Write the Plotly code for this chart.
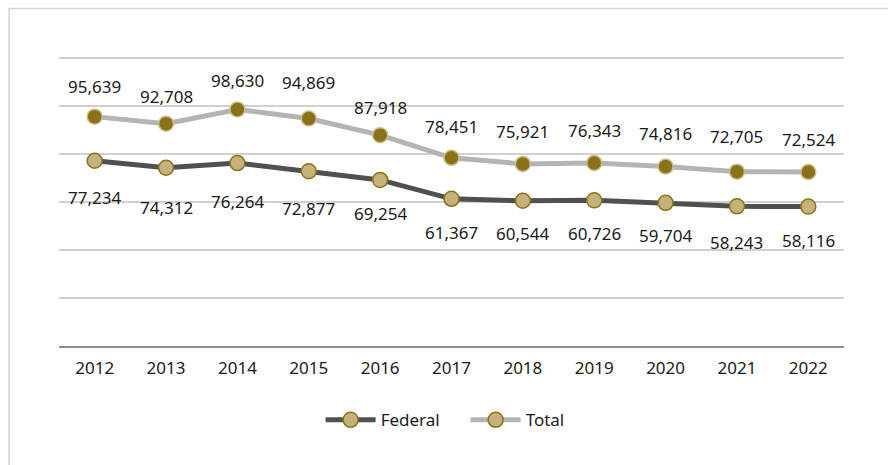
import plotly.graph_objects as go

# Headcount by year
years = ["2012", "2013", "2014", "2015", "2016", "2017", "2018", "2019", "2020", "2021", "2022"]
federal = [77234, 74312, 76264, 72877, 69254, 61367, 60544, 60726, 59704, 58243, 58116]
total = [95639, 92708, 98630, 94869, 87918, 78451, 75921, 76343, 74816, 72705, 72524]

# Vertical pixel offsets for the value labels (positive = above the point)
total_label_shift = [30, 27, 29, 36, 28, 31, 32, 32, 33, 35, 33]
federal_label_shift = [-37, -40, -38, -37, -34, -34, -33, -33, -33, -36, -34]

FONT = "Noto Sans"
TEXT_COLOR = "#1a1a1a"
TAN = "#C4B17C"
OLIVE = "#8A721A"

fig = go.Figure()

fig.add_trace(go.Scatter(
    x=years, y=federal, name="Federal", mode="lines+markers", showlegend=False,
    line=dict(color="#505050", width=5),
    marker=dict(size=15, color=TAN, line=dict(color="#8B7417", width=1.5)),
))
fig.add_trace(go.Scatter(
    x=years, y=total, name="Total", mode="lines+markers", showlegend=False,
    line=dict(color="#B4B4B4", width=5),
    marker=dict(size=15, color=OLIVE, line=dict(color="#CDBE8A", width=1.5)),
))

# Legend keys: both series shown with the light marker
for name, lc in [("Federal", "#505050"), ("Total", "#B4B4B4")]:
    fig.add_trace(go.Scatter(
        x=[None], y=[None], name=name, mode="lines+markers",
        line=dict(color=lc, width=5),
        marker=dict(size=15, color=TAN, line=dict(color="#8B7417", width=1.5)),
    ))

# Value labels, placed by category index on the x axis
annotations = []
for i, (v, s) in enumerate(zip(total, total_label_shift)):
    annotations.append(dict(x=i, y=v, text=f"{v:,}", showarrow=False,
                            yanchor="middle", yshift=s,
                            font=dict(family=FONT, size=17, color=TEXT_COLOR)))
for i, (v, s) in enumerate(zip(federal, federal_label_shift)):
    annotations.append(dict(x=i, y=v, text=f"{v:,}", showarrow=False,
                            yanchor="middle", yshift=s,
                            font=dict(family=FONT, size=17, color=TEXT_COLOR)))

fig.update_layout(
    width=888, height=465,
    margin=dict(l=59, r=44, t=57, b=119),
    paper_bgcolor="white", plot_bgcolor="white",
    font=dict(family=FONT, size=17, color=TEXT_COLOR),
    showlegend=True,
    legend=dict(orientation="h", x=0.518, xanchor="center", y=-0.257, yanchor="middle",
                font=dict(family=FONT, size=17, color=TEXT_COLOR),
                itemwidth=50, entrywidth=80, tracegroupgap=0),
    annotations=annotations,
    shapes=[dict(type="rect", xref="paper", yref="paper",
                 x0=-0.0637, x1=1.2, y0=-0.6, y1=1.168,
                 line=dict(color="#D3D7D7", width=1.5), fillcolor="rgba(0,0,0,0)",
                 layer="below")],
)

fig.update_xaxes(
    type="category", range=[-0.5, len(years) - 0.5], showgrid=False,
    showline=True, linecolor="#8C8C8C", linewidth=1.5,
    ticks="outside", ticklen=6, tickcolor="rgba(0,0,0,0)",
    tickfont=dict(family=FONT, size=17, color=TEXT_COLOR),
)
fig.update_yaxes(
    range=[0, 120500], tickvals=[20000, 40000, 60000, 80000, 100000, 120000],
    showticklabels=False,
    showgrid=True, gridcolor="#D0D0D0", gridwidth=1.5,
    zeroline=False, showline=False,
)

fig.write_html("out.html")
